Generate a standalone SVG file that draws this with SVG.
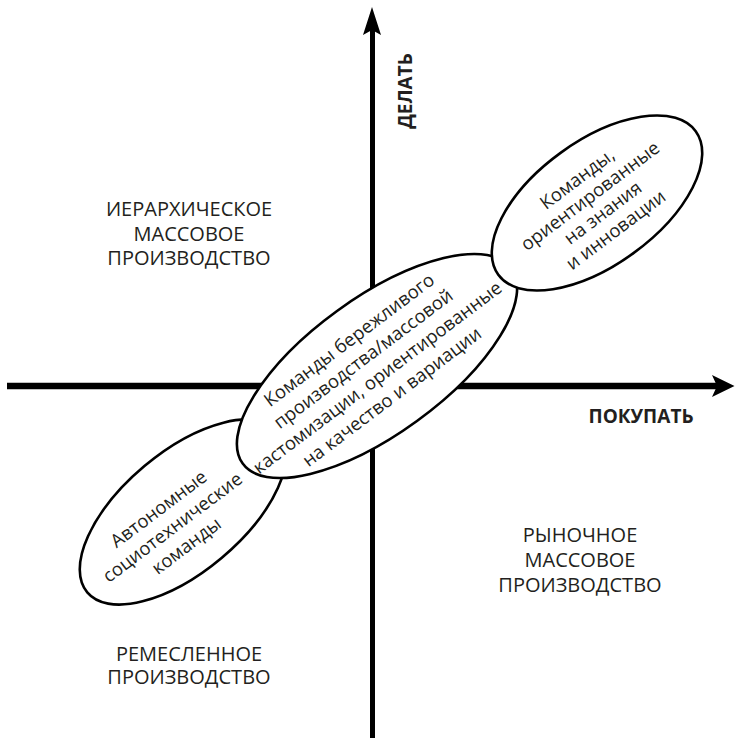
<svg xmlns="http://www.w3.org/2000/svg" width="735" height="738" viewBox="0 0 735 738">
<style>
.q{font-family:"Open Sans","Noto Sans",sans-serif;font-size:20px;fill:#231f20;text-anchor:middle}
.e{font-family:"Open Sans","Noto Sans",sans-serif;font-size:18.5px;fill:#231f20;text-anchor:middle}
.ax{font-family:"Open Sans","Noto Sans",sans-serif;font-size:19px;font-weight:bold;fill:#231f20}
.el{fill:#fff;stroke:#000;stroke-width:2.6}
.axis{stroke:#000;fill:none}
</style>
<rect width="735" height="738" fill="#fff"/>
<g id="connectors">
<line class="axis" x1="372.5" y1="26" x2="372.5" y2="738" stroke-width="5"/>
<path d="M372 7 L381 35 L372 30 L363 35 Z" fill="#000"/>
<line class="axis" x1="7" y1="386" x2="718" y2="386" stroke-width="6.5"/>
<path d="M734.5 386 L712 375 L717 386 L712 397 Z" fill="#000"/>
</g>
<g id="label-delat"><text class="ax" transform="translate(412,91) rotate(-90)" text-anchor="middle">ДЕЛАТЬ</text></g>
<g id="label-pokupat"><text class="ax" x="641" y="423" text-anchor="middle">ПОКУПАТЬ</text></g>
<g id="q-top-left"><text class="q"><tspan x="189" y="216">ИЕРАРХИЧЕСКОЕ</tspan><tspan x="189" y="241">МАССОВОЕ</tspan><tspan x="189" y="265">ПРОИЗВОДСТВО</tspan></text></g>
<g id="q-bottom-right"><text class="q"><tspan x="580" y="542">РЫНОЧНОЕ</tspan><tspan x="580" y="567">МАССОВОЕ</tspan><tspan x="580" y="592">ПРОИЗВОДСТВО</tspan></text></g>
<g id="q-bottom-left"><text class="q"><tspan x="189" y="661">РЕМЕСЛЕННОЕ</tspan><tspan x="189" y="684">ПРОИЗВОДСТВО</tspan></text></g>
<g id="node-autonomous">
<ellipse class="el" cx="183" cy="512" rx="125" ry="60" transform="rotate(-40 183 512)"/>
<text class="e" transform="translate(173,528) rotate(-37)"><tspan x="0" y="-17.5">Автономные</tspan><tspan x="0" y="5.5">социотехнические</tspan><tspan x="0" y="28.5">команды</tspan></text>
</g>
<g id="node-lean">
<ellipse class="el" cx="377" cy="366" rx="166" ry="68" transform="rotate(-36 377 366)"/>
<text class="e" transform="translate(371,369) rotate(-37)"><tspan x="0" y="-30">Команды бережливого</tspan><tspan x="0" y="-6.5">производства/массовой</tspan><tspan x="0" y="17">кастомизации, ориентированные</tspan><tspan x="0" y="41">на качество и вариации</tspan></text>
</g>
<g id="node-knowledge">
<ellipse class="el" cx="597" cy="203" rx="122" ry="62" transform="rotate(-36 597 203)"/>
<text class="e" transform="translate(597,205) rotate(-37)"><tspan x="0" y="-26.5">Команды,</tspan><tspan x="0" y="-5">ориентированные</tspan><tspan x="0" y="16">на знания</tspan><tspan x="0" y="37.5">и инновации</tspan></text>
</g>
</svg>
